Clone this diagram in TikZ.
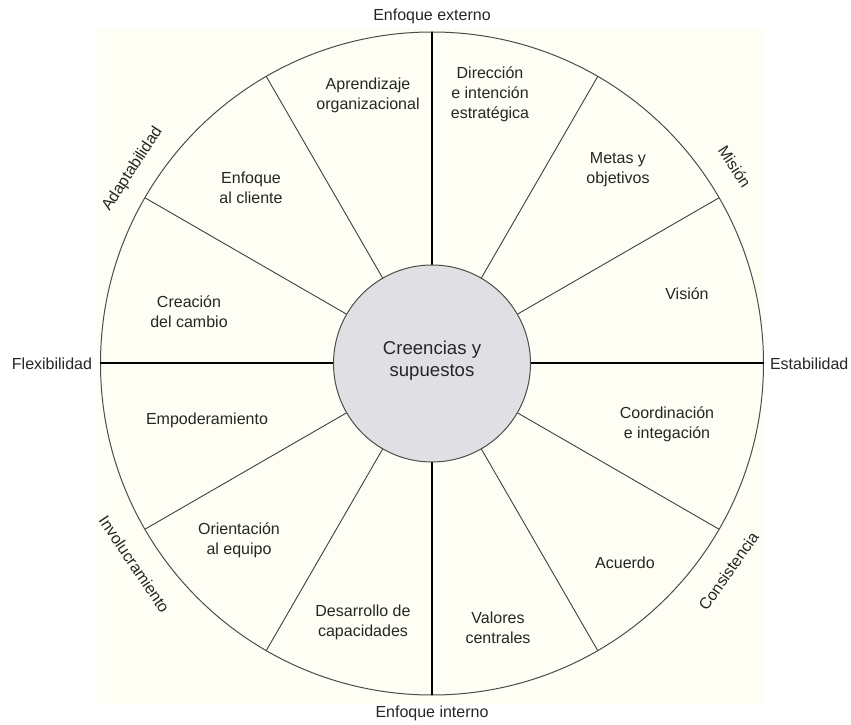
\documentclass[tikz,border=0pt]{standalone}
\usepackage{fontspec}
\setmainfont{Liberation Sans}
\usetikzlibrary{positioning}
\definecolor{paper cream}{HTML}{FFFEF4}
\definecolor{core grey}{HTML}{E0E0E4}
\tikzset{
    % Colors
    rim color/.style={black!70},
    text color/.style={text=black!85},
    %
    % Lines
    rim line/.style={rim color,line width=1pt},
    axis line/.style={black,line width=2pt},
    spoke line/.style={black!75,line width=0.9pt},
    %
    % Discs
    wheel disc/.style={circle,draw,rim line,fill=paper cream,minimum size=663pt,inner sep=0pt,outer sep=0pt},
    core disc/.style={circle,draw,rim line,fill=core grey,minimum size=197pt,inner sep=0pt,outer sep=0pt,
        align=center,text color,font=\fontsize{18.6}{22}\selectfont},
    %
    % Labels
    segment label/.style={align=center,text color,font=\fontsize{16}{20}\selectfont},
    rim label/.style={text color,font=\fontsize{16}{20}\selectfont}
}

\begin{document}
\begin{tikzpicture}[x=1pt,y=1pt]
    \useasboundingbox (-432,-361.5) rectangle (419,363.5);
    \fill[paper cream] (-335,335.5) rectangle (331,-341);

    \node[wheel disc] (wheel) at (0,0) {};
    \draw[axis line] (wheel.north) -- (wheel.south);
    \draw[axis line] (wheel.west) -- (wheel.east);
    \node[core disc] (core) at (0,0) {};
    \node[core disc, draw=none, fill=none] (core text) at (0,3) {Creencias y\\supuestos};
    \foreach \a in {30,60,120,150,210,240,300,330}
        \draw[spoke line] (core.\a) -- (wheel.\a);

    % axis names
    \node[rim label, above=5pt of wheel.north] (externo) {Enfoque externo};
    \node[rim label, below=7pt of wheel.south] (interno) {Enfoque interno};
    \node[rim label, left=5pt of wheel.west] (flexib) {Flexibilidad};
    \node[rim label, right=3pt of wheel.east] (estab) {Estabilidad};

    % quadrant names
    \node[rim label, rotate=57] (adapt) at (147:357) {Adaptabilidad};
    \node[rim label, rotate=-57] (mision) at (33:361) {Misión};
    \node[rim label, rotate=-56] (involuc) at (214:359) {Involucramiento};
    \node[rim label, rotate=55] (consist) at (-35:362) {Consistencia};

    % segments
    \node[segment label] (aprend) at (-64,268) {Aprendizaje\\organizacional};
    \node[segment label] (direcc) at (58,269) {Dirección\\e intención\\estratégica};
    \node[segment label] (metas) at (186,194) {Metas y\\objetivos};
    \node[segment label] (vision) at (255,70) {Visión};
    \node[segment label] (coord) at (235,-61) {Coordinación\\e integación};
    \node[segment label] (acuerdo) at (193,-199) {Acuerdo};
    \node[segment label] (valores) at (66,-264) {Valores\\centrales};
    \node[segment label] (desarr) at (-69,-259) {Desarrollo de\\capacidades};
    \node[segment label] (orient) at (-193,-177) {Orientación\\al equipo};
    \node[segment label] (empod) at (-225,-57) {Empoderamiento};
    \node[segment label] (creac) at (-243,52) {Creación\\del cambio};
    \node[segment label] (cliente) at (-181,176) {Enfoque\\al cliente};
\end{tikzpicture}
\end{document}
